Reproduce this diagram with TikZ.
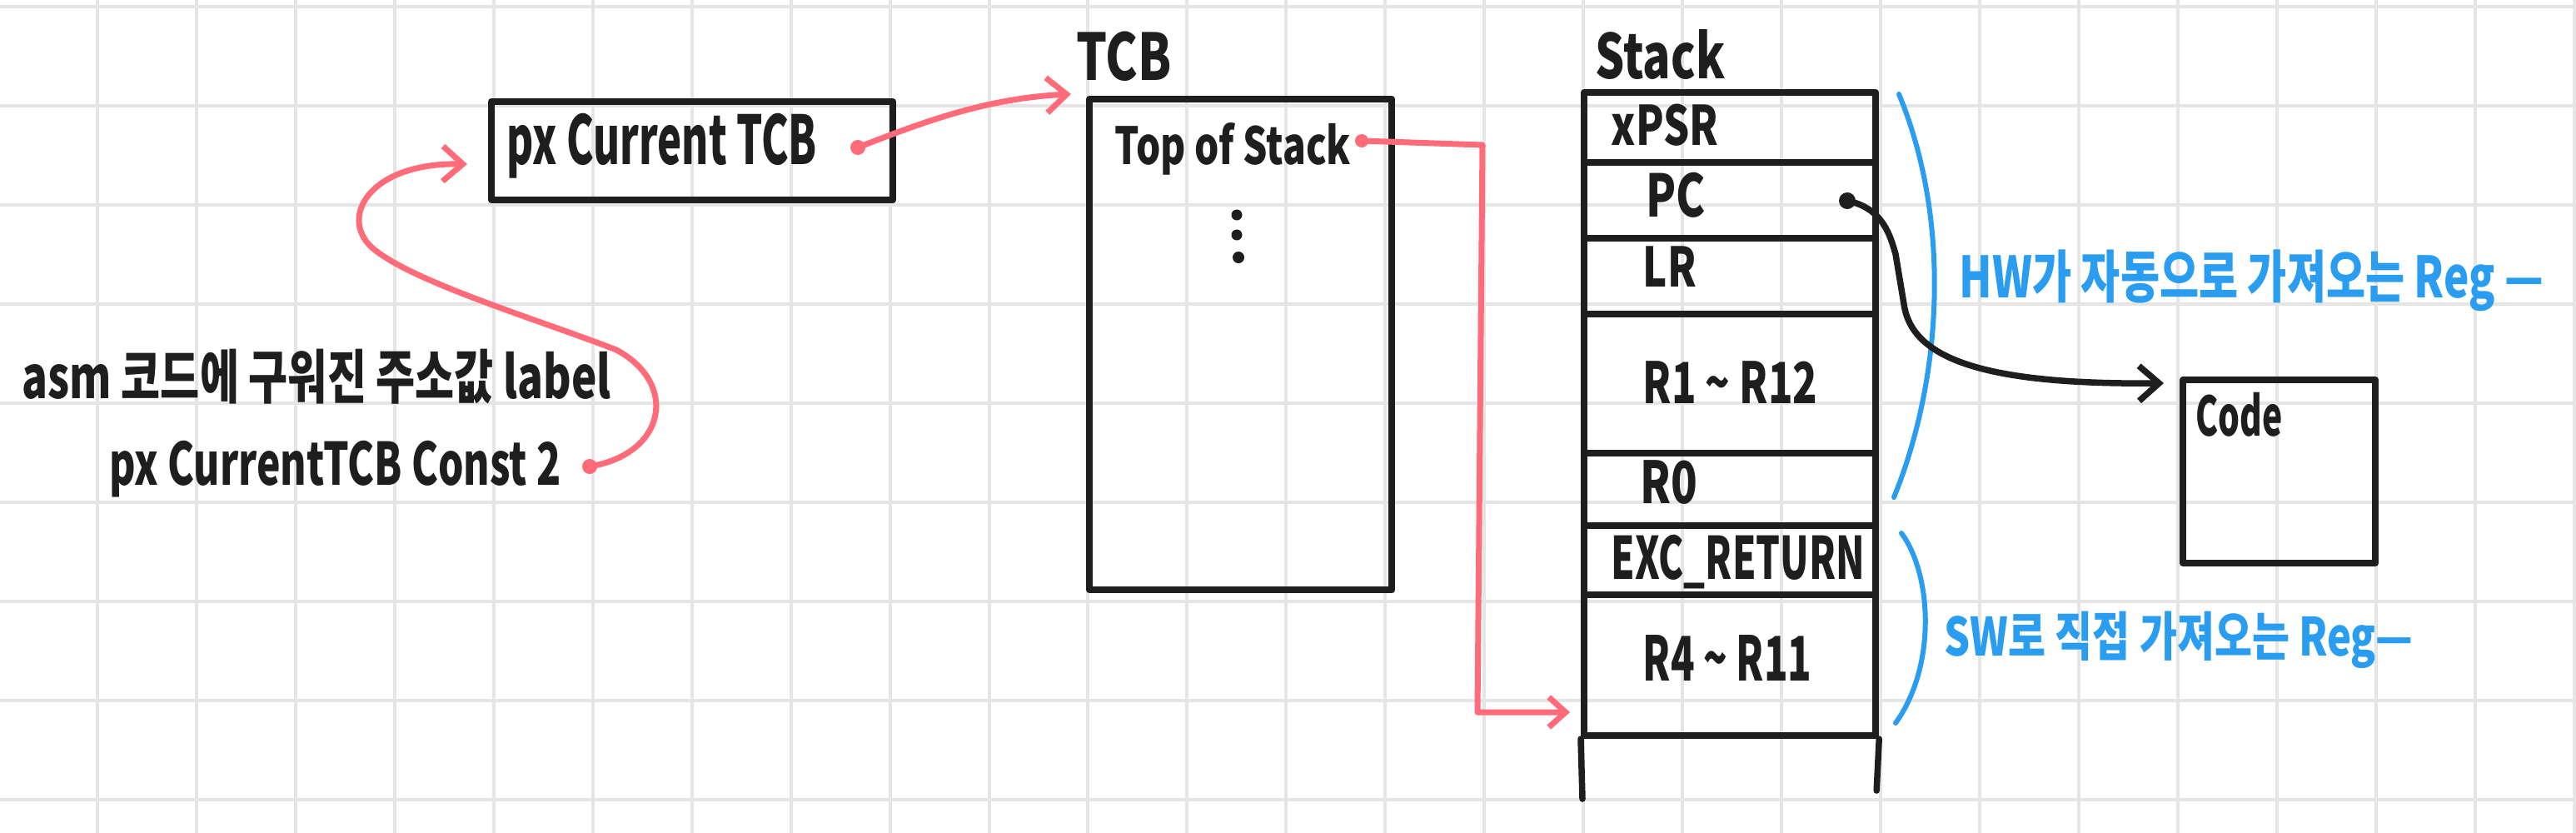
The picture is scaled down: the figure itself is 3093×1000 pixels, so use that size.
\documentclass[tikz,border=0pt]{standalone}
\usepackage{fontspec}
\usepackage{graphicx}
\usetikzlibrary{arrows.meta,calc}
\newfontfamily\hand[FakeStretch=0.75]{Noto Sans CJK KR}
\newcommand{\narrow}[2]{\scalebox{#1}[1]{#2}}
\definecolor{ink}{HTML}{1E1E1E}
\definecolor{pen}{HTML}{FF6B78}
\definecolor{sky}{HTML}{2A9DF0}
\definecolor{gridc}{HTML}{E5E5E5}
\begin{document}
\begin{tikzpicture}[x=0.01cm,y=-0.01cm,
  box/.style={draw=ink,line width=0.08cm,rectangle,inner sep=0pt,anchor=north west,line join=round},
  lbl/.style={anchor=base west,inner sep=0pt,text=ink,font=\hand\bfseries\fontsize{#1}{#1}\selectfont},
  blbl/.style={anchor=base west,inner sep=0pt,text=sky,font=\hand\bfseries\fontsize{#1}{#1}\selectfont},
  redline/.style={draw=pen,line width=0.07cm,line cap=round,line join=round},
  blueline/.style={draw=sky,line width=0.06cm,line cap=round},
  inkline/.style={draw=ink,line width=0.075cm,line cap=round,line join=round},
  barb/.style={-{Straight Barb[length=0.24cm,width=0.42cm]}}
]
\fill[white] (0,0) rectangle (3093,1000);
\useasboundingbox (0,0) rectangle (3093,1000);
% grid
\foreach \i in {0,...,26} \draw[gridc,line width=0.04cm] ({-2+118.95*\i},0) -- ({-2+118.95*\i},1000);
\foreach \j in {0,...,8} \draw[gridc,line width=0.04cm] (0,{8+118.95*\j}) -- (3093,{8+118.95*\j});

% left labels
\node[lbl=20pt] (asm) at (26,478) {\narrow{0.97}{asm 코드에 구워진 주소값 label}};
\node[lbl=20pt] (const) at (131,582) {\narrow{0.91}{px CurrentTCB Const 2}};

% pxCurrentTCB box
\node[box,minimum width=4.82cm,minimum height=1.18cm] (ptcb) at (586,118) {};
\node[lbl=23pt] (ptcbt) at (608,197) {\narrow{0.81}{px Current TCB}};

% TCB
\node[lbl=22pt] (tcbt) at (1292,97) {TCB};
\node[box,minimum width=3.63cm,minimum height=5.89cm] (tcb) at (1304,115) {};
\node[lbl=17.5pt] (tos) at (1338,197) {Top of Stack};
\fill[ink] (1485,258) circle[radius=0.065cm] (1485,282) circle[radius=0.065cm] (1487,309) circle[radius=0.07cm];

% Stack
\node[lbl=21pt] (stackt) at (1915,94) {Stack};
\node[box,minimum width=3.5cm,minimum height=0.84cm] (sx) at (1898,107) {};
\node[box,minimum width=3.5cm,minimum height=0.91cm] (spc) at (1898,191) {};
\node[box,minimum width=3.5cm,minimum height=0.91cm] (slr) at (1898,282) {};
\node[box,minimum width=3.5cm,minimum height=1.67cm] (sr1) at (1898,373) {};
\node[box,minimum width=3.5cm,minimum height=0.87cm] (sr0) at (1898,540) {};
\node[box,minimum width=3.5cm,minimum height=0.83cm] (sexc) at (1898,627) {};
\node[box,minimum width=3.5cm,minimum height=1.69cm] (sr4) at (1898,710) {};
\draw[inkline] (sr4.south west) -- ++(2,72);
\draw[inkline] (sr4.south east) -- ++(-3,62);
\node[lbl=18.6pt] (txpsr) at (1934,174) {xPSR};
\node[lbl=20pt] (tpc) at (1976,260) {PC};
\node[lbl=18.6pt] (tlr) at (1972,344) {LR};
\node[lbl=19.4pt] (tr1) at (1972,484) {\narrow{0.95}{R1 \textasciitilde\ R12}};
\node[lbl=19.8pt] (tr0) at (1969,604) {R0};
\node[lbl=20pt] (texc) at (1934,695) {\narrow{0.86}{EXC\_RETURN}};
\node[lbl=21pt] (tr4) at (1972,817) {\narrow{0.85}{R4 \textasciitilde\ R11}};

% Code box
\node[box,minimum width=2.31cm,minimum height=2.2cm] (code) at (2617,452) {};
\node[lbl=18.6pt] (codet) at (2636,523) {\narrow{0.83}{Code}};

% blue brackets and labels
\draw[blueline] (2280,113) .. controls (2345,270) and (2330,460) .. (2274,597);
\draw[blueline] (2283,640) .. controls (2320,690) and (2325,800) .. (2276,868);
\node[blbl=19.4pt] (hw) at (2352,357) {HW가 자동으로 가져오는 Reg —};
\node[blbl=18pt] (sw) at (2334,787) {\narrow{1.03}{SW로 직접 가져오는 Reg—}};

% connector coordinates
\coordinate (d1) at (708,560);
\coordinate (d2) at (1030,177);
\coordinate (d3) at (1635,169);
\coordinate (d4) at (2218,241);
\coordinate (sin) at (1885,855);

% red S-curve
\fill[pen] (d1) circle[radius=0.09cm];
\draw[redline,barb] (d1) .. controls (800,545) and (815,460) .. (740,420)
   .. controls (650,385) and (500,340) .. (450,300)
   .. controls (405,265) and (440,195) .. ($(ptcb.west)+(-25,16)$);
% red to TCB
\fill[pen] (d2) circle[radius=0.09cm];
\draw[redline,barb] (d2) .. controls (1100,150) and (1180,118) .. ($(tcb.north west)+(-18,-2)$);
% red top of stack to stack
\fill[pen] (d3) circle[radius=0.08cm];
\draw[redline,-{Straight Barb[length=0.2cm,width=0.36cm]}] (d3) -- (1780,174) -- (1774,855) -- (sin);
% black PC to code
\fill[ink] (d4) circle[radius=0.1cm];
\draw[inkline,barb] (d4) .. controls (2262,250) and (2270,285) .. (2276,305) -- (2286,365)
   .. controls (2295,430) and (2380,462) .. ($(code.north west)+(-19,8)$);
\end{tikzpicture}
\end{document}
